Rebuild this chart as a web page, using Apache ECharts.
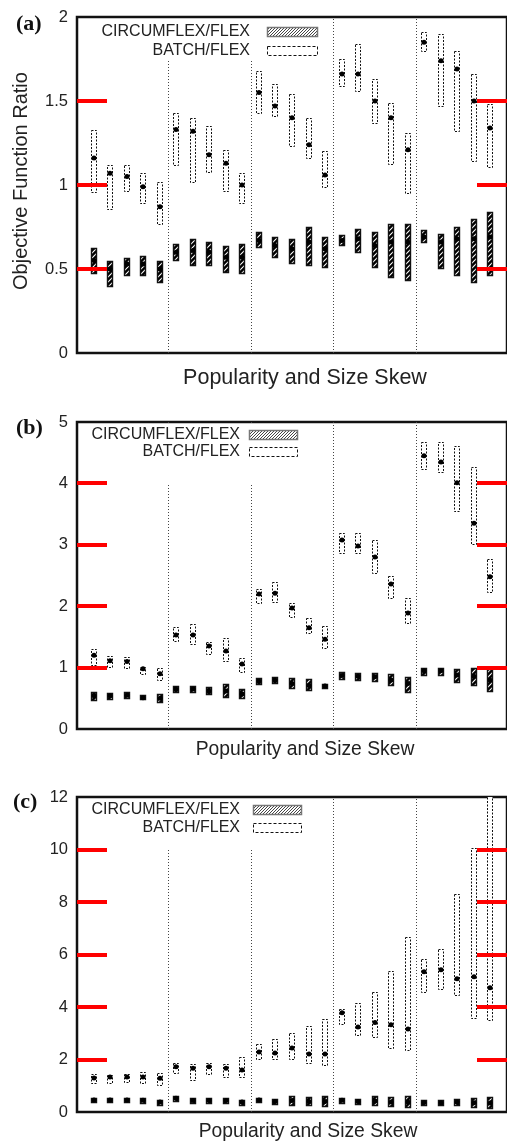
<!DOCTYPE html>
<html><head><meta charset="utf-8">
<script src="https://cdn.jsdelivr.net/npm/echarts@6/dist/echarts.min.js"></script>
<style>html,body{margin:0;padding:0;background:#fff}#c{width:507px;height:1145px}</style>
</head><body><div id="c"></div>
<script>
// ---------------- DATA ----------------
const positions = Array.from({length:25},(_,i)=>i);
const separators = [4.5, 9.5, 14.5, 19.5];
const seriesNames = ['CIRCUMFLEX/FLEX','BATCH/FLEX'];
const xAxisName = 'Popularity and Size Skew';
const yAxisName = 'Objective Function Ratio';
const panelLabels = ['(a)','(b)','(c)'];

// Panel (a)
const A_circLow  = [0.476,0.40,0.464,0.464,0.423, 0.554,0.524,0.524,0.482,0.476, 0.63,0.57,0.535,0.524,0.512, 0.64,0.60,0.512,0.45,0.435, 0.66,0.506,0.464,0.423,0.464];
const A_circHigh = [0.625,0.548,0.566,0.577,0.548, 0.649,0.679,0.661,0.637,0.649, 0.72,0.69,0.68,0.75,0.69, 0.70,0.74,0.72,0.77,0.77, 0.73,0.71,0.75,0.80,0.84];
const A_circMean = [0.55,0.50,0.53,0.53,0.50, 0.60,0.61,0.60,0.57,0.57, 0.67,0.64,0.62,0.66,0.62, 0.67,0.68,0.64,0.66,0.66, 0.69,0.66,0.68,0.68,0.69];
const A_batchLow  = [0.96,0.86,0.966,0.89,0.77, 1.12,1.02,1.08,0.965,0.89, 1.43,1.41,1.23,1.16,0.99, 1.59,1.56,1.37,1.125,0.95, 1.80,1.47,1.32,1.14,1.11];
const A_batchHigh = [1.33,1.12,1.12,1.07,1.02, 1.43,1.40,1.35,1.21,1.07, 1.68,1.60,1.54,1.40,1.20, 1.75,1.84,1.63,1.49,1.31, 1.91,1.90,1.80,1.66,1.48];
const A_batchMean = [1.16,1.07,1.05,0.99,0.87, 1.33,1.32,1.18,1.13,1.00, 1.55,1.47,1.40,1.24,1.06, 1.66,1.66,1.50,1.40,1.21, 1.85,1.74,1.69,1.50,1.34];
const A_ticks = [0, 0.5, 1, 1.5, 2];

// Panel (b)
const B_circLow  = [0.47,0.49,0.51,0.49,0.44, 0.60,0.60,0.57,0.52,0.50, 0.74,0.75,0.66,0.63,0.66, 0.81,0.80,0.78,0.72,0.61, 0.88,0.88,0.77,0.72,0.62];
const B_circHigh = [0.60,0.59,0.60,0.55,0.57, 0.70,0.70,0.68,0.73,0.65, 0.83,0.85,0.83,0.81,0.74, 0.93,0.91,0.91,0.89,0.85, 1.00,1.00,0.98,0.99,0.98];
const B_circMean = [0.54,0.54,0.55,0.51,0.50, 0.65,0.65,0.62,0.62,0.57, 0.78,0.80,0.74,0.71,0.70, 0.87,0.86,0.85,0.80,0.74, 0.95,0.95,0.88,0.86,0.80];
const B_batchLow  = [1.04,1.01,0.99,0.90,0.80, 1.43,1.38,1.22,1.11,0.93, 2.05,2.07,1.82,1.56,1.32, 2.87,2.87,2.54,2.13,1.73, 4.23,4.18,3.55,3.01,2.23];
const B_batchHigh = [1.30,1.19,1.17,1.01,1.00, 1.66,1.71,1.42,1.48,1.16, 2.28,2.39,2.05,1.81,1.68, 3.19,3.19,3.08,2.49,2.13, 4.67,4.67,4.61,4.27,2.77];
const B_batchMean = [1.20,1.11,1.10,0.98,0.90, 1.53,1.53,1.35,1.27,1.06, 2.20,2.21,1.97,1.65,1.46, 3.08,2.98,2.80,2.36,1.89, 4.45,4.35,4.01,3.35,2.48];
const B_ticks = [0, 1, 2, 3, 4, 5];

// Panel (c)
const C_circLow  = [0.37,0.37,0.37,0.35,0.28, 0.43,0.35,0.35,0.35,0.28, 0.37,0.32,0.28,0.25,0.22, 0.36,0.32,0.26,0.22,0.20, 0.26,0.26,0.28,0.20,0.16];
const C_circHigh = [0.55,0.55,0.55,0.55,0.46, 0.60,0.52,0.52,0.52,0.46, 0.55,0.50,0.60,0.58,0.60, 0.52,0.48,0.62,0.58,0.62, 0.46,0.44,0.48,0.52,0.56];
const C_circMean = [0.46,0.46,0.46,0.45,0.38, 0.52,0.44,0.44,0.44,0.38, 0.46,0.40,0.44,0.40,0.40, 0.45,0.40,0.42,0.38,0.38, 0.36,0.35,0.38,0.35,0.34];
const C_batchLow  = [1.11,1.11,1.15,1.10,1.03, 1.49,1.22,1.45,1.34,1.34, 2.02,2.02,2.02,1.87,1.79, 3.36,2.94,2.86,2.45,2.37, 4.58,4.69,4.47,3.59,3.51];
const C_batchHigh = [1.45,1.41,1.45,1.53,1.49, 1.87,1.83,1.87,1.83,2.10, 2.60,2.78,3.02,3.28,3.55, 3.93,4.16,4.58,5.38,6.68, 5.84,6.22,8.32,10.04,12.3];
const C_batchMean = [1.30,1.33,1.33,1.33,1.29, 1.72,1.67,1.72,1.67,1.60, 2.29,2.25,2.44,2.21,2.21, 3.78,3.24,3.41,3.32,3.16, 5.34,5.42,5.08,5.15,4.73];
const C_ticks = [0, 2, 4, 6, 8, 10, 12];

// ---------------- LAYOUT / STYLE ----------------
const FONT = '"Liberation Sans", Arial, Helvetica, sans-serif';
const SERIF = '"Liberation Serif", "Times New Roman", serif';
const panels = [
  {label:panelLabels[0], top:17, height:336, ticks:A_ticks,
   circ:[A_circLow,A_circHigh,A_circMean], batch:[A_batchLow,A_batchHigh,A_batchMean],
   lab:{x:16,y:24}, xname:{x:305,y:378,size:21.5},
   leg:{textRight:250, y1:32, y2:51, sx:267, sw:50, bg:[80,19,250,42]}},
  {label:panelLabels[1], top:422, height:307, ticks:B_ticks,
   circ:[B_circLow,B_circHigh,B_circMean], batch:[B_batchLow,B_batchHigh,B_batchMean],
   lab:{x:16,y:428}, xname:{x:305,y:750,size:19.3},
   leg:{textRight:240, y1:435, y2:452, sx:249, sw:48, bg:[80,424,230,59]}},
  {label:panelLabels[2], top:797, height:315, ticks:C_ticks,
   circ:[C_circLow,C_circHigh,C_circMean], batch:[C_batchLow,C_batchHigh,C_batchMean],
   lab:{x:13,y:802}, xname:{x:308,y:1132,size:19.3},
   leg:{textRight:240, y1:810, y2:828, sx:253, sw:48, bg:[80,799,235,49]}}
];
const X_MIN = -1, X_MAX = 25, TICK_LEN = 30;

function makeHatch(bg, fg, period, lw){
  const c = document.createElement('canvas'); c.width = period; c.height = period;
  const g = c.getContext('2d');
  g.fillStyle = bg; g.fillRect(0,0,period,period);
  g.strokeStyle = fg; g.lineWidth = lw;
  g.beginPath();
  g.moveTo(-1, period+1); g.lineTo(period+1, -1);
  g.moveTo(-period-1, period+1); g.lineTo(1, -1);
  g.moveTo(-1, 2*period+1); g.lineTo(2*period+1, -1);
  g.stroke();
  return c;
}
const boxHatch = {image: makeHatch('#000', '#fff', 5, 1.1), repeat: 'repeat'};
const legHatch = {image: makeHatch('#fff', '#444', 3, 1), repeat: 'repeat'};

function boxRender(kind){
  return function(params, api){
    const i = api.value(0), lo = api.value(1), hi = api.value(2), m = api.value(3);
    const pt = api.coord([i, hi]), pb = api.coord([i, lo]), pm = api.coord([i, m]);
    const w = 5;
    const cx = Math.round(pt[0]);
    const rect = {type:'rect',
      shape:{x:cx - w/2, y:Math.round(pt[1]) + 0.5, width:w, height:Math.max(3, Math.round(pb[1]) - Math.round(pt[1]))},
      style: kind === 'c'
        ? {fill: boxHatch, stroke:'#111', lineWidth:1.4}
        : {fill:'#fff', stroke:'#111', lineWidth:1, lineDash:[2,1.5]}};
    const dot = {type:'circle', shape:{cx:cx, cy:pm[1], r:2.5}, style:{fill:'#000'}};
    return {type:'group', children:[rect, dot]};
  };
}
function sepRender(params, api){
  const x = api.value(0);
  const p0 = api.coord([x, 0]);
  const cs = params.coordSys;
  const px = Math.round(p0[0]) + 0.5;
  return {type:'line', shape:{x1:px, y1:cs.y + cs.height, x2:px, y2:cs.y},
    style:{stroke:'#444', lineWidth:1, lineDash:[1,2]}};
}

const grids = [], xAxes = [], yAxes = [], series = [], graphics = [];
panels.forEach((p, k) => {
  const max = p.ticks[p.ticks.length-1];
  const interval = p.ticks[1] - p.ticks[0];
  grids.push({left:77, top:p.top, width:433, height:p.height, show:true,
    borderColor:'#111', borderWidth:2.5, backgroundColor:'transparent'});
  xAxes.push({gridIndex:k, type:'value', min:X_MIN, max:X_MAX, show:false});
  yAxes.push({gridIndex:k, type:'value', min:0, max:max, interval:interval, position:'left',
    axisLine:{show:false, onZero:false}, axisTick:{show:false}, splitLine:{show:false},
    axisLabel:{fontSize:16.5, color:'#222', margin:9, fontFamily:FONT}});
  series.push({type:'custom', xAxisIndex:k, yAxisIndex:k, z:1, silent:true, clip:false,
    data: separators.map(s => [s, 0]), renderItem: sepRender});
  series.push({type:'custom', name:seriesNames[0], xAxisIndex:k, yAxisIndex:k, z:3, silent:true, clip:true,
    data: positions.map(i => [i, p.circ[0][i], p.circ[1][i], p.circ[2][i]]), renderItem: boxRender('c')});
  series.push({type:'custom', name:seriesNames[1], xAxisIndex:k, yAxisIndex:k, z:3, silent:true, clip:true,
    data: positions.map(i => [i, p.batch[0][i], p.batch[1][i], p.batch[2][i]]), renderItem: boxRender('b')});

  graphics.push({type:'text', x:p.lab.x, y:p.lab.y, z:100,
    style:{text:p.label, font:'bold 22px ' + SERIF, fill:'#111', align:'left', verticalAlign:'middle'}});
  graphics.push({type:'text', x:p.xname.x, y:p.xname.y, z:100,
    style:{text:xAxisName, font:p.xname.size + 'px ' + FONT, fill:'#222', align:'center', verticalAlign:'middle'}});
  const L = p.leg;
  graphics.push({type:'rect', z:50, shape:{x:L.bg[0], y:L.bg[1], width:L.bg[2], height:L.bg[3]}, style:{fill:'#fff'}});
  graphics.push({type:'text', x:L.textRight, y:L.y1, z:100,
    style:{text:seriesNames[0], font:'16px ' + FONT, fill:'#222', align:'right', verticalAlign:'middle'}});
  graphics.push({type:'text', x:L.textRight, y:L.y2, z:100,
    style:{text:seriesNames[1], font:'16px ' + FONT, fill:'#222', align:'right', verticalAlign:'middle'}});
  graphics.push({type:'rect', z:100, shape:{x:L.sx + 0.5, y:L.y1 - 4.5, width:L.sw, height:9},
    style:{fill:legHatch, stroke:'#777', lineWidth:1.5}});
  graphics.push({type:'rect', z:100, shape:{x:L.sx + 0.5, y:L.y2 - 4.5, width:L.sw, height:9},
    style:{fill:'#fff', stroke:'#111', lineWidth:1, lineDash:[3,2]}});
});
graphics.push({type:'text', x:21, y:181, rotation:Math.PI/2, z:100,
  style:{text:yAxisName, font:'20px ' + FONT, fill:'#222', align:'center', verticalAlign:'middle'}});

const chart = echarts.init(document.getElementById('c'), null, {renderer:'canvas'});
chart.setOption({
  animation:false,
  backgroundColor:'#fff',
  grid:grids, xAxis:xAxes, yAxis:yAxes, series:series, graphic:graphics
});

// DEBUG: big red tick marks to check visibility
const tickGraphics = [];
panels.forEach((p, k) => {
  const xl = Math.round(chart.convertToPixel({xAxisIndex:k}, X_MIN));
  const xr = Math.round(chart.convertToPixel({xAxisIndex:k}, X_MAX));
  p.ticks.slice(1, -1).forEach(v => {
    const y = Math.round(chart.convertToPixel({yAxisIndex:k}, v));
    tickGraphics.push({type:'rect', z:100, shape:{x:xl, y:y - 2, width:TICK_LEN, height:4}, style:{fill:'#f00'}});
    tickGraphics.push({type:'rect', z:100, shape:{x:xr - TICK_LEN, y:y - 2, width:TICK_LEN, height:4}, style:{fill:'#f00'}});
  });
});
chart.setOption({graphic: graphics.concat(tickGraphics)});
</script></body></html>
